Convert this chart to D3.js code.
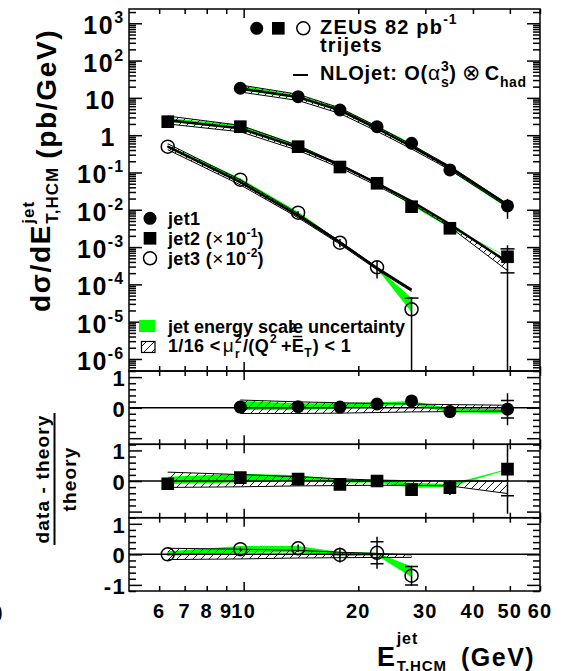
<!DOCTYPE html>
<html>
<head>
<meta charset="utf-8">
<script src="https://cdnjs.cloudflare.com/ajax/libs/d3/7.8.5/d3.min.js"></script>
<style>
	body { margin: 0; background: #fff; }
	text { font-family: 'Liberation Sans', Arial, Helvetica, sans-serif; font-weight: bold; fill: #000; letter-spacing: 0.06em; }
</style>
</head>
<body>
<svg id="chart" width="573" height="671"></svg>
<script>
// values
const X_DOMAIN = [5, 60];
const X_LABELS = [6, 7, 8, 9, 10, 20, 30, 40, 50, 60];
const X_MINOR = [6, 7, 8, 9, 20, 30, 40, 50, 60];
const Y_DECADES = [-6, -5, -4, -3, -2, -1, 0, 1, 2, 3];
const RATIO_LABELS = [[1, 0], [1, 0], [1, 0, -1]];

const etJet1 = [9.8, 13.9, 17.9, 22.4, 27.6, 34.8, 49.3];
const etJet2 = [6.32, 9.8, 13.9, 17.9, 22.4, 27.6, 34.8, 49.3];
const etJet3 = [6.32, 9.8, 13.9, 17.9, 22.4, 27.6];

// cross sections in pb/GeV (before the x10^-1, x10^-2 factors)
const dataJet1 = [18.1, 10.8, 4.74, 1.69, 0.607, 0.117, 0.0127];
const dataJet2 = [23.0, 16.9, 4.92, 1.40, 0.513, 0.121, 0.0319, 0.0055];
const dataJet3 = [49.2, 6.41, 0.836, 0.131, 0.0287, 0.00215];

const theoryJet1 = [17.75, 10.49, 4.65, 1.509, 0.4975, 0.1345, 0.01337];
const theoryJet2 = [25.27, 15.23, 4.64, 1.573, 0.513, 0.1681, 0.0409, 0.00396];
const theoryJet3 = [49.2, 5.48, 0.697, 0.1337, 0.0273, 0.00717];

// relative errors on data: stat (capped) and total (line)
const statJet1 = [0.01, 0.01, 0.015, 0.02, 0.03, 0.06, 0.3];
const totJet1 = [0.03, 0.03, 0.04, 0.05, 0.07, 0.22, 0.55];
const statJet2 = [0.01, 0.01, 0.02, 0.03, 0.05, 0.08, 0.12, 0.63];
const totJet2 = [0.03, 0.03, 0.04, 0.05, 0.08, 0.15, 0.3, 1.05];
const statJet3 = [0.01, 0.03, 0.06, 0.1, 0.34, 1.0];
const totJet3 = [0.03, 0.05, 0.1, 0.25, 0.5, 1.1];

// renormalisation scale band (hatched), relative to theory
const scaleUpJet1 = [0.25, 0.19, 0.16, 0.14, 0.12, 0.1, 0.08];
const scaleDnJet1 = [-0.19, -0.19, -0.18, -0.16, -0.14, -0.13, -0.11];
const scaleUpJet2 = [0.29, 0.21, 0.14, 0.07, 0.03, 0.01, 0.0, 0.0];
const scaleDnJet2 = [-0.21, -0.19, -0.16, -0.15, -0.14, -0.14, -0.16, -0.41];
const scaleUpJet3 = [0.2, 0.17, 0.13, 0.07, 0.03, -0.02];
const scaleDnJet3 = [-0.17, -0.15, -0.12, -0.11, -0.1, -0.1];

// jet energy scale band (green), relative to theory
const jesHiJet1 = [0.22, 0.14, 0.14, 0.18, 0.22, -0.02, -0.05];
const jesLoJet1 = [-0.08, -0.08, -0.04, 0.05, 0.1, -0.16, -0.18];
const jesHiJet2 = [0.14, 0.24, 0.19, 0.06, 0.03, -0.06, -0.1, 0.39];
const jesLoJet2 = [-0.1, -0.05, 0.02, -0.06, -0.05, -0.22, -0.2, 0.37];
const jesHiJet3 = [0.1, 0.27, 0.27, 0.08, 0.05, -0.4];
const jesLoJet3 = [-0.05, 0.05, 0.07, -0.06, -0.04, -0.75];

const GREEN = '#00ff00';
const LEFT = 129;
const RIGHT = 540;
const MAIN = { top: 9, bottom: 371 };
const PANELS = [
	{ top: 371, bottom: 444.3 },
	{ top: 444.3, bottom: 517.7 },
	{ top: 517.7, bottom: 591 }
];
const MARKER_R = 6.5;

const series = [
	{ et: etJet1, data: dataJet1, theory: theoryJet1, stat: statJet1, tot: totJet1, up: scaleUpJet1, dn: scaleDnJet1, hi: jesHiJet1, lo: jesLoJet1, factor: 1, marker: 'filled' },
	{ et: etJet2, data: dataJet2, theory: theoryJet2, stat: statJet2, tot: totJet2, up: scaleUpJet2, dn: scaleDnJet2, hi: jesHiJet2, lo: jesLoJet2, factor: 0.1, marker: 'square' },
	{ et: etJet3, data: dataJet3, theory: theoryJet3, stat: statJet3, tot: totJet3, up: scaleUpJet3, dn: scaleDnJet3, hi: jesHiJet3, lo: jesLoJet3, factor: 0.01, marker: 'open' }
].map(s => s.et.map((e, i) => ({
	et: e,
	data: s.data[i] * s.factor,
	theory: s.theory[i] * s.factor,
	ratio: s.data[i] / s.theory[i] - 1,
	stat: s.stat[i],
	tot: s.tot[i],
	up: s.up[i],
	dn: s.dn[i],
	hi: s.hi[i],
	lo: s.lo[i],
	marker: s.marker
})));

const svg = d3.select('#chart');
const defs = svg.append('defs');

const x = d3.scaleLog().domain(X_DOMAIN).range([LEFT, RIGHT]);
const yMain = d3.scaleLog().domain([4.76e-7, 2415]).range([MAIN.bottom, MAIN.top]);
const yRatio = PANELS.map(p => d3.scaleLinear().domain([-1.2, 1.2]).range([p.bottom, p.top]));
const yLog = v => yMain(Math.max(v, 1e-12));

defs.append('pattern')
	.attr('id', 'hatch')
	.attr('patternUnits', 'userSpaceOnUse')
	.attr('width', 8)
	.attr('height', 8)
	.append('path')
	.attr('d', 'M-2,2 L2,-2 M0,8 L8,0 M6,10 L10,6')
	.attr('stroke', '#000')
	.attr('stroke-width', 0.9);

[MAIN, ...PANELS].forEach((p, i) => {
	defs.append('clipPath')
		.attr('id', `clip${i}`)
		.append('rect')
		.attr('x', LEFT)
		.attr('y', p.top)
		.attr('width', RIGHT - LEFT)
		.attr('height', p.bottom - p.top);
});

function richText(parent, px, py, parts, opts = {}) {
	const g = parent.append('g');
	let cursor = 0;
	let lastStart = 0;
	parts.forEach(p => {
		const start = p.stack ? lastStart : cursor;
		const tx = start + (p.dx || 0);
		const t = g.append('text')
			.attr('x', tx)
			.attr('y', p.dy || 0)
			.style('font-size', `${p.size}px`)
			.text(p.t);
		if (p.normal) t.style('font-weight', 'normal');
		if (opts.spacing !== undefined) t.style('letter-spacing', opts.spacing);
		const w = t.node().getComputedTextLength();
		if (p.overline) {
			const oy = (p.dy || 0) - p.size * 0.86;
			g.append('line')
				.attr('x1', tx + 1).attr('x2', tx + w - 2)
				.attr('y1', oy).attr('y2', oy)
				.attr('stroke', '#000').attr('stroke-width', 1.5);
		}
		lastStart = start;
		cursor = Math.max(cursor, tx + w);
	});
	let shift = 0;
	if (opts.anchor === 'end') shift = -cursor;
	if (opts.anchor === 'middle') shift = -cursor / 2;
	g.attr('transform', `translate(${px + shift},${py})`);
	return cursor;
}

const symbol = type => d3.symbol()
	.type(type === 'square' ? d3.symbolSquare : d3.symbolCircle)
	.size(type === 'square' ? 160 : Math.PI * MARKER_R * MARKER_R)();

function drawMarkers(g, pts, yOf) {
	g.selectAll('path.marker')
		.data(pts)
		.join('path')
		.attr('class', 'marker')
		.attr('d', d => symbol(d.marker))
		.attr('transform', d => `translate(${x(d.et)},${yOf(d)})`)
		.attr('fill', d => (d.marker === 'open' ? 'none' : '#000'))
		.attr('stroke', '#000')
		.attr('stroke-width', d => (d.marker === 'open' ? 1.5 : 0));
}

function drawErrors(g, pts, lo, hi, sLo, sHi, cap) {
	g.selectAll('line.err')
		.data(pts)
		.join('line')
		.attr('class', 'err')
		.attr('x1', d => x(d.et)).attr('x2', d => x(d.et))
		.attr('y1', lo).attr('y2', hi)
		.attr('stroke', '#000').attr('stroke-width', 1.5);
	const caps = [];
	pts.forEach(d => {
		const c = (sLo(d) + sHi(d)) / 2;
		[sLo(d), sHi(d)].forEach(yy => {
			if (Math.abs(yy - c) > MARKER_R + 1) caps.push({ x: x(d.et), y: yy });
		});
	});
	g.selectAll('line.cap')
		.data(caps)
		.join('line')
		.attr('class', 'cap')
		.attr('x1', d => d.x - cap / 2).attr('x2', d => d.x + cap / 2)
		.attr('y1', d => d.y).attr('y2', d => d.y)
		.attr('stroke', '#000').attr('stroke-width', 1.5);
}

function drawBands(g, pts, yOf) {
	const green = d3.area().x(d => x(d.et)).y0(d => yOf(d, d.lo)).y1(d => yOf(d, d.hi));
	const hatch = d3.area().x(d => x(d.et)).y0(d => yOf(d, d.dn)).y1(d => yOf(d, d.up));
	g.append('path').attr('d', green(pts)).attr('fill', GREEN);
	g.append('path').attr('d', hatch(pts)).attr('fill', 'url(#hatch)');
	['up', 'dn'].forEach(k => {
		g.append('path')
			.attr('d', d3.line().x(d => x(d.et)).y(d => yOf(d, d[k]))(pts))
			.attr('fill', 'none').attr('stroke', '#000').attr('stroke-width', 1);
	});
}

// main panel
const main = svg.append('g').attr('clip-path', 'url(#clip0)');
series.forEach(pts => {
	const g = main.append('g');
	drawBands(g, pts, (d, r) => yLog(d.theory * (1 + r)));
	g.append('path')
		.attr('d', d3.line().x(d => x(d.et)).y(d => yLog(d.theory))(pts))
		.attr('fill', 'none').attr('stroke', '#000').attr('stroke-width', 2.5);
	drawErrors(g, pts,
		d => yLog(d.data * (1 - d.tot)), d => yLog(d.data * (1 + d.tot)),
		d => yLog(d.data * (1 - d.stat)), d => yLog(d.data * (1 + d.stat)), 14);
	drawMarkers(g, pts, d => yLog(d.data));
});

// ratio panels
series.forEach((pts, i) => {
	const yR = yRatio[i];
	const g = svg.append('g').attr('clip-path', `url(#clip${i + 1})`);
	drawBands(g, pts, (d, r) => yR(r));
	g.append('line')
		.attr('x1', LEFT).attr('x2', RIGHT)
		.attr('y1', yR(0)).attr('y2', yR(0))
		.attr('stroke', '#000').attr('stroke-width', 1.5);
	drawErrors(g, pts,
		d => yR(d.ratio - d.tot * (1 + d.ratio)), d => yR(d.ratio + d.tot * (1 + d.ratio)),
		d => yR(d.ratio - d.stat * (1 + d.ratio)), d => yR(d.ratio + d.stat * (1 + d.ratio)), 13);
	drawMarkers(g, pts, d => yR(d.ratio));
});

// ticks and frames
const axes = svg.append('g').attr('class', 'axes');
function tickAxis(axis, tx, ty) {
	const g = axes.append('g').attr('transform', `translate(${tx},${ty})`).call(axis);
	g.select('.domain').remove();
	g.selectAll('line').attr('stroke', '#000').attr('stroke-width', 1.5);
}

const mainMajor = Y_DECADES.map(d => 10 ** d);
const mainMinor = d3.range(-7, 4).flatMap(d => d3.range(2, 10).map(k => k * 10 ** d))
	.filter(v => v > yMain.domain()[0] && v < yMain.domain()[1]);
[[mainMajor, 13], [mainMinor, 7]].forEach(([vals, size]) => {
	tickAxis(d3.axisRight(yMain).tickValues(vals).tickSize(size).tickFormat(''), LEFT, 0);
	tickAxis(d3.axisLeft(yMain).tickValues(vals).tickSize(size).tickFormat(''), RIGHT, 0);
});

const ratioMinor = d3.range(-1.2, 1.21, 0.2).map(v => Math.round(v * 10) / 10).filter(v => Math.abs(v % 1) > 0.01);
yRatio.forEach(yR => {
	[[[-1, 0, 1], 13], [ratioMinor, 7]].forEach(([vals, size]) => {
		tickAxis(d3.axisRight(yR).tickValues(vals).tickSize(size).tickFormat(''), LEFT, 0);
		tickAxis(d3.axisLeft(yR).tickValues(vals).tickSize(size).tickFormat(''), RIGHT, 0);
	});
});

[MAIN, ...PANELS].forEach(p => {
	[[[10], 9], [X_MINOR, 5]].forEach(([vals, size]) => {
		tickAxis(d3.axisBottom(x).tickValues(vals).tickSize(size).tickFormat(''), 0, p.top);
		tickAxis(d3.axisTop(x).tickValues(vals).tickSize(size).tickFormat(''), 0, p.bottom);
	});
	axes.append('rect')
		.attr('x', LEFT).attr('y', p.top)
		.attr('width', RIGHT - LEFT).attr('height', p.bottom - p.top)
		.attr('fill', 'none').attr('stroke', '#000').attr('stroke-width', 1.5);
});

// tick labels
Y_DECADES.forEach(d => {
	const yy = yMain(10 ** d) + 11;
	if (d === 0 || d === 1) {
		richText(svg, 116, yy, [{ t: d === 0 ? '1' : '10', size: 25 }], { anchor: 'end' });
	} else {
		richText(svg, 124, yy, [{ t: '10', size: 25 }, { t: String(d), size: 16, dy: -11 }], { anchor: 'end' });
	}
});

RATIO_LABELS.forEach((vals, i) => {
	vals.forEach(v => {
		svg.append('text')
			.attr('x', 126).attr('y', yRatio[i](v) + 9)
			.attr('text-anchor', 'end')
			.style('font-size', '22px')
			.text(v);
	});
});

X_LABELS.forEach(v => {
	svg.append('text')
		.attr('x', x(v)).attr('y', 618)
		.attr('text-anchor', 'middle')
		.style('font-size', '20px')
		.text(v);
});

// axis titles
const rot = svg.append('g').attr('transform', 'rotate(-90)');
richText(rot, -312, 50, [
	{ t: 'dσ/dE', size: 28 },
	{ t: 'jet', size: 17, dy: -16 },
	{ t: 'T,HCM', size: 17, dy: 8, stack: true },
	{ t: '(pb/GeV)', size: 28, dx: 8, dy: 6 }
]);

const fracY = 479;
rot.append('text').attr('x', -fracY).attr('y', 49).attr('text-anchor', 'middle').style('font-size', '19px').text('data - theory');
rot.append('line')
	.attr('x1', -fracY - 66).attr('x2', -fracY + 66)
	.attr('y1', 54.5).attr('y2', 54.5)
	.attr('stroke', '#000').attr('stroke-width', 2);
rot.append('text').attr('x', -fracY).attr('y', 76).attr('text-anchor', 'middle').style('font-size', '19px').text('theory');

richText(svg, 377, 666, [
	{ t: 'E', size: 27 },
	{ t: 'jet', size: 16, dy: -22 },
	{ t: 'T,HCM', size: 15, dy: 5, stack: true },
	{ t: '(GeV)', size: 25, dx: 14 }
]);

svg.append('text').attr('x', 4).attr('y', 622).attr('text-anchor', 'end').style('font-size', '24px').text('0');

// legends
const legend = svg.append('g');
[['filled', 256.7], ['square', 278.3], ['open', 303.3]].forEach(([m, lx]) => {
	drawMarkers(legend.append('g'), [{ et: x.invert(lx), marker: m }], () => 28.3);
});
richText(legend, 320, 33.5, [{ t: 'ZEUS 82 pb', size: 20 }, { t: '-1', size: 14, dy: -10 }]);
richText(legend, 320, 51.5, [{ t: 'trijets', size: 20 }]);
legend.append('line').attr('x1', 293).attr('x2', 308).attr('y1', 75).attr('y2', 75).attr('stroke', '#000').attr('stroke-width', 2);
richText(legend, 320, 80, [
	{ t: 'NLOjet: O(', size: 20 },
	{ t: 'α', size: 21, normal: true },
	{ t: '3', size: 14, dy: -9 },
	{ t: 's', size: 14, dy: 7, stack: true },
	{ t: ')', size: 20 },
	{ t: '⊗', size: 22, normal: true, dx: 5 },
	{ t: 'C', size: 20, dx: 4 },
	{ t: 'had', size: 14, dy: 7 }
], { spacing: '0.04em' });

[['filled', 218.3], ['square', 238.3], ['open', 258.3]].forEach(([m, ly]) => {
	drawMarkers(legend.append('g'), [{ et: x.invert(150), marker: m }], () => ly);
});
richText(legend, 168, 225, [{ t: 'jet1', size: 18 }], { spacing: '0.02em' });
[['jet2', '-1', 245], ['jet3', '-2', 265]].forEach(([name, ex, ly]) => {
	richText(legend, 168, ly, [
		{ t: `${name} (`, size: 18 },
		{ t: '×', size: 19, normal: true },
		{ t: '10', size: 18, dx: 2 },
		{ t: ex, size: 12, dy: -8 },
		{ t: ')', size: 18 }
	], { spacing: '0.02em' });
});

legend.append('rect').attr('x', 139).attr('y', 320).attr('width', 16).attr('height', 12).attr('fill', GREEN);
richText(legend, 168, 333, [{ t: 'jet energy scale uncertainty', size: 18 }], { spacing: '0em' });
legend.append('rect').attr('x', 141.5).attr('y', 341.5).attr('width', 13.5).attr('height', 11)
	.attr('fill', 'url(#hatch)').attr('stroke', '#000').attr('stroke-width', 1.2);
richText(legend, 168, 352, [
	{ t: '1/16 < ', size: 18 },
	{ t: 'μ', size: 19, normal: true, dx: 2 },
	{ t: '2', size: 12, dy: -9, dx: 1 },
	{ t: 'r', size: 12, dy: 6, stack: true, dx: 1 },
	{ t: '/(Q', size: 18, dx: 1 },
	{ t: '2', size: 12, dy: -9, dx: 1 },
	{ t: '+', size: 18, dx: 4 },
	{ t: 'E', size: 18, overline: true },
	{ t: '2', size: 12, dy: -20, dx: -15 },
	{ t: 'T', size: 12, dy: 5, stack: true, dx: 0 },
	{ t: ') < 1', size: 18, dx: 1 }
], { spacing: '0.02em' });
</script>
</body>
</html>
